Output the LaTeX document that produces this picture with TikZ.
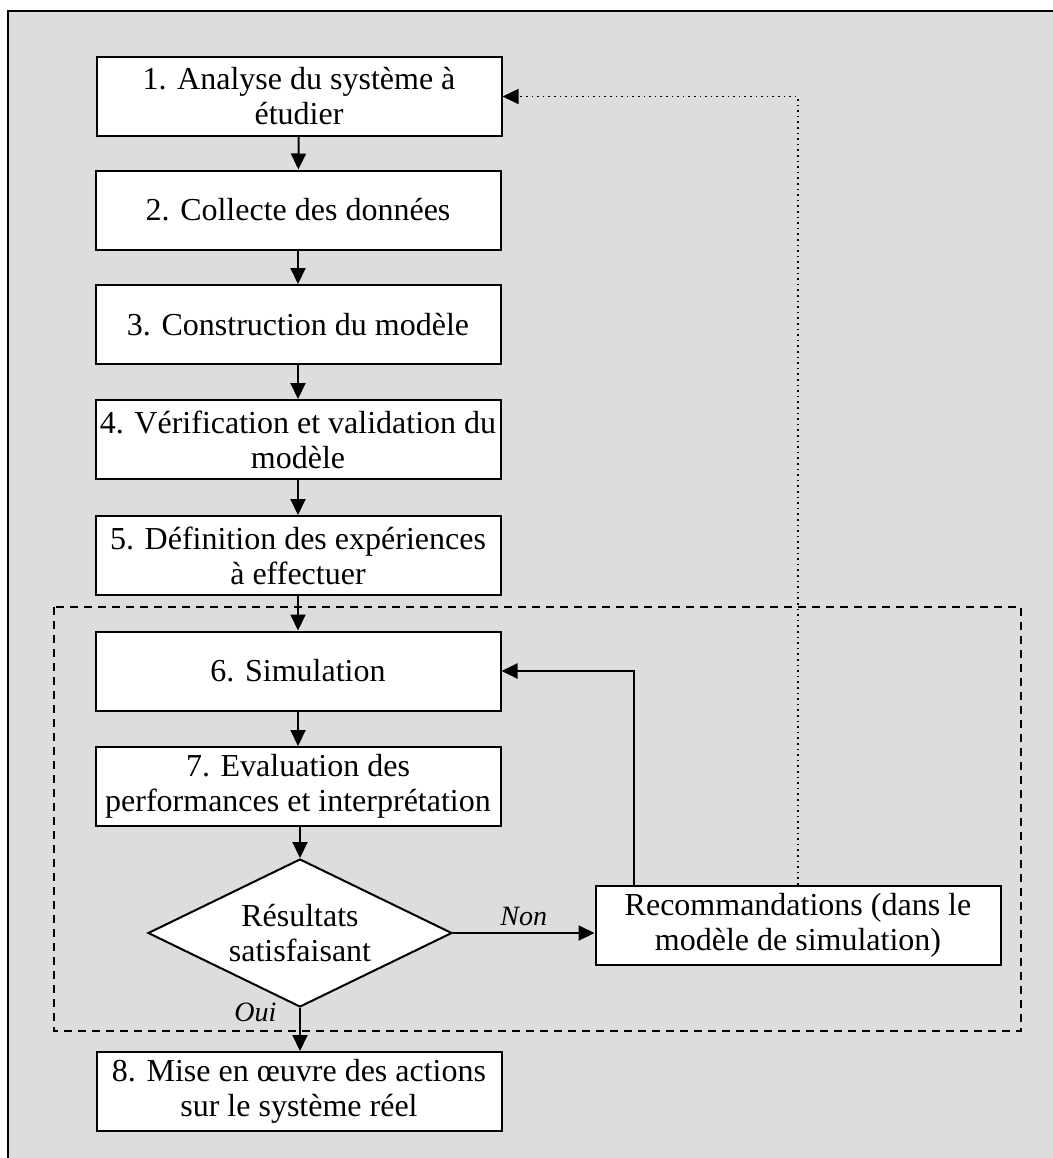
\documentclass[tikz,border=0pt]{standalone}
\usepackage{fontspec}
\setmainfont{Liberation Serif}
\usetikzlibrary{arrows.meta,shapes.geometric,calc}
\definecolor{Panel}{HTML}{DDDDDD}
\tikzset{
    stepbox/.style={draw, fill=white, line width=1pt, minimum width=202.5pt,
        minimum height=39.5pt, align=center, inner sep=1pt,
        font=\fontsize{16}{17.5}\selectfont},
    testbox/.style={draw, fill=white, line width=1pt, diamond, aspect=2.05,
        minimum width=152pt, minimum height=74pt, align=center, inner sep=0pt,
        font=\fontsize{16}{17.5}\selectfont},
    flow/.style={line width=1pt, -{Triangle[length=8pt,width=7.5pt]}},
    loop/.style={line width=0.8pt, dotted, -{Triangle[length=8pt,width=7.5pt]}},
    answer/.style={font=\fontsize{14}{15}\selectfont\itshape}
}

\begin{document}
\begin{tikzpicture}[x=0.5pt, y=-0.5pt]
\useasboundingbox (0,0) rectangle (1053,1158);
\draw[line width=1pt, fill=Panel] (8,11) rectangle (1080,1190);
\draw[line width=1pt, dash pattern=on 4pt off 3pt] (54,607) rectangle (1021,1031);

\node[stepbox] (s1) at (299,96.5) {1. Analyse du système à\\étudier};
\node[stepbox] (s2) at (298,210) {2. Collecte des données};
\node[stepbox] (s3) at (298,324.5) {3. Construction du modèle};
\node[stepbox] (s4) at (298,439.5) {4. Vérification et validation du\\modèle};
\node[stepbox] (s5) at (298,555.5) {5. Définition des expériences\\à effectuer};
\node[stepbox] (s6) at (298,671) {6. Simulation};
\node[stepbox] (s7) at (298,786.5) {7. Evaluation des\\performances et interprétation};
\node[testbox] (test) at (300,933) {Résultats\\satisfaisant};
\node[stepbox] (reco) at (798,925) {Recommandations (dans le\\modèle de simulation)};
\node[stepbox] (s8) at (299,1091.5) {8. Mise en œuvre des actions\\sur le système réel};

\draw[flow] (s1) -- (s2);
\draw[flow] (s2) -- (s3);
\draw[flow] (s3) -- (s4);
\draw[flow] (s4) -- (s5);
\draw[flow] (s5) -- (s6);
\draw[flow] (s6) -- (s7);
\draw[flow] (s7.south -| test.north) -- (test.north);
\draw[flow] (test.east) -- (test.east -| reco.west)
    node[answer, midway, above] {Non};
\draw[flow] (test.south) -- (test.south |- s8.north)
    node[answer, pos=0.1, left=8pt] {Oui};
\draw[flow] ($(reco.north west)+(39,0)$) |- (s6.east);
\draw[loop] (reco.north) |- (s1.east);
\end{tikzpicture}
\end{document}
